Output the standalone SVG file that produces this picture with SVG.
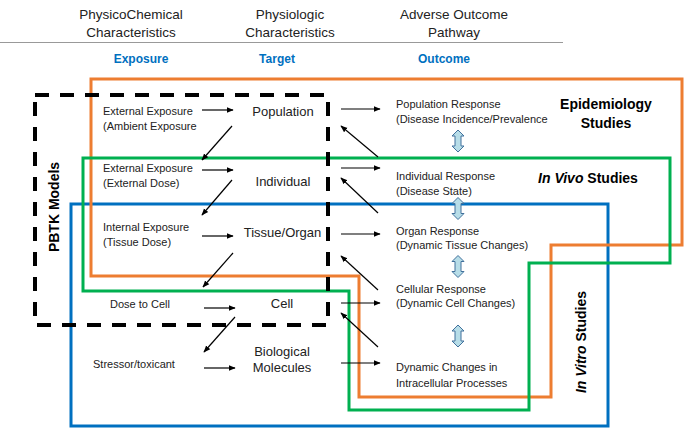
<svg xmlns="http://www.w3.org/2000/svg" width="685" height="429" viewBox="0 0 685 429">
<defs>
<marker id="ah" viewBox="0 0 10 10" refX="9" refY="5" markerWidth="7" markerHeight="7" markerUnits="userSpaceOnUse" orient="auto">
<path d="M0,1 L10,5 L0,9 Z" fill="#000"/>
</marker>
<path id="dbl" d="M0,-11 L6,-5 L3,-5 L3,5 L6,5 L0,11 L-6,5 L-3,5 L-3,-5 L-6,-5 Z" fill="#b7dde8" stroke="#41719c" stroke-width="1"/>
</defs>
<style>
text{font-family:"Liberation Sans",Arial,sans-serif;fill:#222}
.hd{font-size:13.5px;text-anchor:middle}
.col{font-size:12px;font-weight:bold;fill:#0070c0;text-anchor:middle}
.sm{font-size:11px}
.tg{font-size:13px;text-anchor:middle}
.st{font-size:14px;font-weight:bold;fill:#000}
.ar line{stroke:#000;stroke-width:1.2;marker-end:url(#ah)}
.box{fill:none;stroke-width:3}
</style>
<rect width="685" height="429" fill="#fff"/>
<g id="header">
<text class="hd" x="131" y="19">PhysicoChemical</text>
<text class="hd" x="131" y="37">Characteristics</text>
<text class="hd" x="290" y="19">Physiologic</text>
<text class="hd" x="290" y="37">Characteristics</text>
<text class="hd" x="454" y="19">Adverse Outcome</text>
<text class="hd" x="454" y="37">Pathway</text>
<line x1="0" y1="42.5" x2="563" y2="42.5" stroke="#999" stroke-width="1.2"/>
<text class="col" x="141" y="63">Exposure</text>
<text class="col" x="277" y="63">Target</text>
<text class="col" x="444" y="63">Outcome</text>
</g>
<g id="regions">
<rect id="in-vitro" class="box" x="71" y="204" width="537" height="222" stroke="#0070c0"/>
<path id="epidemiology" class="box" d="M91,79 H682 V245 H551 V397 H359 V276 H91 Z" stroke="#ed7d31"/>
<path id="in-vivo" class="box" d="M83,158 H670 V263 H529 V410 H349 V291 H83 Z" stroke="#00b050"/>
<rect id="pbtk" x="35" y="95" width="293" height="230" fill="none" stroke="#000" stroke-width="4" stroke-dasharray="14 11"/>
</g>
<g id="labels">
<text class="st" x="606" y="109" text-anchor="middle">Epidemiology</text>
<text class="st" x="606" y="128" text-anchor="middle">Studies</text>
<text class="st" x="588" y="183" text-anchor="middle"><tspan font-style="italic">In Vivo</tspan> Studies</text>
<text class="st" transform="translate(586,342) rotate(-90)" text-anchor="middle"><tspan font-style="italic">In Vitro</tspan> Studies</text>
<text class="st" font-size="13.5px" transform="translate(59,207) rotate(-90)" text-anchor="middle">PBTK Models</text>
</g>
<g id="exposure-nodes">
<g id="ext-ambient"><text class="sm" x="103" y="115">External Exposure</text><text class="sm" x="103" y="130">(Ambient Exposure</text></g>
<g id="ext-dose"><text class="sm" x="103" y="172">External Exposure</text><text class="sm" x="103" y="187">(External Dose)</text></g>
<g id="int-dose"><text class="sm" x="103" y="231">Internal Exposure</text><text class="sm" x="103" y="246">(Tissue Dose)</text></g>
<g id="dose-cell"><text class="sm" x="110" y="308">Dose to Cell</text></g>
<g id="stressor"><text class="sm" x="93" y="368">Stressor/toxicant</text></g>
</g>
<g id="target-nodes">
<g id="population"><text class="tg" x="283" y="115.5">Population</text></g>
<g id="individual"><text class="tg" x="283" y="185.5">Individual</text></g>
<g id="tissue"><text class="tg" x="282.5" y="236.5">Tissue/Organ</text></g>
<g id="cell"><text class="tg" x="282" y="307.5">Cell</text></g>
<g id="molecules"><text class="tg" x="282" y="355.5">Biological</text><text class="tg" x="282" y="371.5">Molecules</text></g>
</g>
<g id="outcome-nodes">
<g id="pop-resp"><text class="sm" x="396" y="108">Population Response</text><text class="sm" x="396" y="123">(Disease Incidence/Prevalence</text></g>
<g id="ind-resp"><text class="sm" x="396" y="180">Individual Response</text><text class="sm" x="396" y="195">(Disease State)</text></g>
<g id="org-resp"><text class="sm" x="396" y="235">Organ Response</text><text class="sm" x="396" y="249">(Dynamic Tissue Changes)</text></g>
<g id="cell-resp"><text class="sm" x="396" y="293">Cellular Response</text><text class="sm" x="396" y="307">(Dynamic Cell Changes)</text></g>
<g id="intra"><text class="sm" x="396" y="371">Dynamic Changes in</text><text class="sm" x="396" y="387">Intracellular Processes</text></g>
</g>
<g id="connectors">
<g class="ar">
<line x1="202" y1="110" x2="233" y2="110"/>
<line x1="202" y1="170" x2="233" y2="170"/>
<line x1="202" y1="236" x2="233" y2="236"/>
<line x1="204" y1="308" x2="235" y2="308"/>
<line x1="204" y1="368" x2="235" y2="368"/>
<line x1="232" y1="126" x2="202" y2="160"/>
<line x1="232" y1="180" x2="202" y2="215"/>
<line x1="233" y1="253" x2="203" y2="287"/>
<line x1="235" y1="317" x2="204" y2="352"/>
<line x1="341" y1="109" x2="380" y2="109"/>
<line x1="341" y1="168" x2="380" y2="168"/>
<line x1="341" y1="234" x2="380" y2="234"/>
<line x1="341" y1="303" x2="380" y2="303"/>
<line x1="341" y1="363" x2="380" y2="363"/>
<line x1="378" y1="157" x2="341" y2="126"/>
<line x1="378" y1="213" x2="341" y2="178"/>
<line x1="378" y1="290" x2="341" y2="256"/>
<line x1="378" y1="347" x2="341" y2="313"/>
</g>
<use href="#dbl" x="458" y="141"/>
<use href="#dbl" x="458" y="208.5"/>
<use href="#dbl" x="458" y="266.5"/>
<use href="#dbl" x="458" y="336"/>
</g>
</svg>
